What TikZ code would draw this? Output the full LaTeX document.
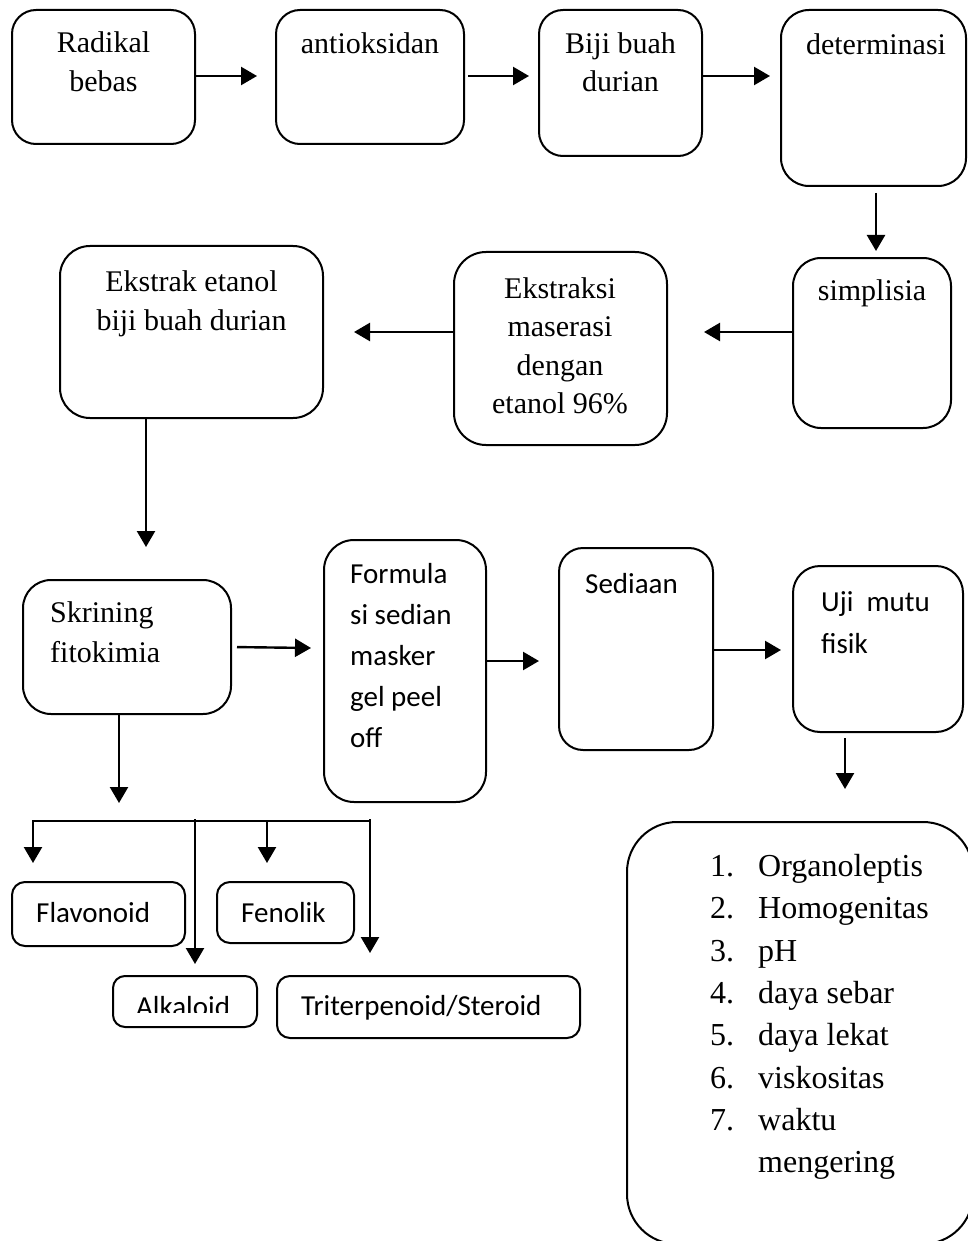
\documentclass[tikz,border=0pt]{standalone}
\usepackage{fontspec}
\setmainfont{Liberation Serif}
\newfontfamily\carl{Carlito}
\usetikzlibrary{arrows.meta,fit}
\begin{document}
\begin{tikzpicture}[x=1pt,y=-1pt,
  box/.style={draw, line width=2pt, rounded corners=#1, inner sep=0pt, outer sep=0pt},
  box/.default=28pt,
  arr/.style={line width=2.4pt, -{Triangle[length=16pt,width=18pt]}},
  ln/.style={line width=2.4pt},
  tnr/.style={font=\fontsize{30}{36}\selectfont, inner sep=0pt, anchor=base},
  tnrl/.style={font=\fontsize{30}{36}\selectfont, inner sep=0pt, anchor=base west},
  cal/.style={font=\carl\fontsize{29}{35}\selectfont, inner sep=0pt, anchor=base west},
  lst/.style={font=\fontsize{32}{38}\selectfont, inner sep=0pt, anchor=base west}]
\useasboundingbox (0,0) rectangle (968,1241);
\begin{scope}
\clip (0,0) rectangle (968,1241);
% boxes
\node[box=24pt, fit={(12,10)(195,144)}] (rad) {};
\node[box=24pt, fit={(276,10)(464,144)}] (anti) {};
\node[box=24pt, fit={(539,10)(702,156)}] (biji) {};
\node[box, fit={(781,10)(966,186)}] (det) {};
\node[box, fit={(793,258)(951,428)}] (simp) {};
\node[box=32pt, fit={(454,252)(667,445)}] (ekm) {};
\node[box=30pt, fit={(60,246)(323,418)}] (eke) {};
\node[box, fit={(23,580)(231,714)}] (skr) {};
\node[box=30pt, fit={(324,540)(486,802)}] (form) {};
\node[box=24pt, fit={(559,548)(713,750)}] (sed) {};
\node[box=27pt, fit={(793,566)(963,732)}] (uji) {};
\node[box=13pt, fit={(12,882)(185,946)}] (flav) {};
\node[box=13pt, fit={(217,882)(354,943)}] (fen) {};
\node[box=12pt, fit={(113,976)(257,1027)}] (alk) {};
\node[box=13pt, fit={(277,976)(580,1038)}] (tri) {};
\node[box=50pt, fit={(627,822)(973,1244)}] (big) {};
% texts
\node[tnr] (trad1) at (103.5,53) {Radikal};
\node[tnr] (trad2) at (103.5,92) {bebas};
\node[tnr] (tanti) at (370,54) {antioksidan};
\node[tnr] (tbiji1) at (620.5,54) {Biji buah};
\node[tnr] (tbiji2) at (620.5,92) {durian};
\node[tnr] (tdet) at (876,55) {determinasi};
\node[tnr] (tsimp) at (872,300) {simplisia};
\node[tnr] (tekm1) at (560,298) {Ekstraksi};
\node[tnr] (tekm2) at (560,336.5) {maserasi};
\node[tnr] (tekm3) at (560,375) {dengan};
\node[tnr] (tekm4) at (560,413.5) {etanol 96\%};
\node[tnr] (teke1) at (191.5,291) {Ekstrak etanol};
\node[tnr] (teke2) at (191.5,330) {biji buah durian};
\node[tnrl] (tskr1) at (50,622.7) {Skrining};
\node[tnrl] (tskr2) at (50,662.7) {fitokimia};
\node[cal] (tform1) at (350,583) {Formula};
\node[cal] (tform2) at (350,624) {si sedian};
\node[cal] (tform3) at (350,665) {masker};
\node[cal] (tform4) at (350,706) {gel peel};
\node[cal] (tform5) at (350,747) {off};
\node[cal] (tsed) at (585,593) {Sediaan};
\node[cal] (tuji1) at (821,611) {Uji~~mutu};
\node[cal] (tuji2) at (821,653) {fisik};
\node[cal] (tflav) at (36,922.7) {Flavonoid};
\node[cal] (tfen) at (241,922.7) {Fenolik};
\begin{scope}
\clip (120,985) rectangle (250,1012.5);
\node[cal] (talk) at (136,1016.5) {Alkaloid};
\end{scope}
\node[cal] (ttri) at (301,1015) {Triterpenoid/Steroid};
% list
\node[lst] (n1) at (710,876.5) {1.};
\node[lst] (l1) at (758,876.5) {Organoleptis};
\node[lst] (n2) at (710,918.8) {2.};
\node[lst] (l2) at (758,918.8) {Homogenitas};
\node[lst] (n3) at (710,961.1) {3.};
\node[lst] (l3) at (758,961.1) {pH};
\node[lst] (n4) at (710,1003.4) {4.};
\node[lst] (l4) at (758,1003.4) {daya sebar};
\node[lst] (n5) at (710,1045.7) {5.};
\node[lst] (l5) at (758,1045.7) {daya lekat};
\node[lst] (n6) at (710,1088) {6.};
\node[lst] (l6) at (758,1088) {viskositas};
\node[lst] (n7) at (710,1130.3) {7.};
\node[lst] (l7) at (758,1130.3) {waktu};
\node[lst] (l8) at (758,1172.6) {mengering};
% arrow ends
\coordinate (a1) at (257,76);
\coordinate (a2) at (529,76);
\coordinate (a3) at (770,76);
\coordinate (a4) at (876,251);
\coordinate (a5) at (704,332);
\coordinate (a6) at (354,332);
\coordinate (a7) at (146,547);
\coordinate (a8) at (311,648);
\coordinate (a9) at (539,661);
\coordinate (a10) at (781,650);
\coordinate (a11) at (845,789);
\coordinate (a12) at (119,803);
\coordinate (b1) at (33,821);
\coordinate (b2) at (195,819);
\coordinate (b3) at (267,821);
\coordinate (b4) at (370,821);
\coordinate (b4t) at (370,819);
\coordinate (e1) at (33,863);
\coordinate (e2) at (195,964);
\coordinate (e3) at (267,863);
\coordinate (e4) at (370,953);
% arrows
\draw[arr] (rad.east |- a1) -- (a1);
\draw[arr, shorten <=4pt] (anti.east |- a2) -- (a2);
\draw[arr] (biji.east |- a3) -- (a3);
\draw[arr, shorten <=7pt] (det.south -| a4) -- (a4);
\draw[arr] (simp.west |- a5) -- (a5);
\draw[arr] (ekm.west |- a6) -- (a6);
\draw[arr] (eke.south -| a7) -- (a7);
\draw[arr, shorten <=6pt] (skr.east) -- (a8);
\draw[arr] (form.east |- a9) -- (a9);
\draw[arr] (sed.east |- a10) -- (a10);
\draw[arr, shorten <=6pt] (uji.south -| a11) -- (a11);
\draw[arr] (skr.south -| a12) -- (a12);
\draw[arr] (b4) -- (b1) -- (e1);
\draw[arr] (b2) -- (e2);
\draw[arr] (b3) -- (e3);
\draw[arr] (b4t) -- (e4);
\end{scope}
\end{tikzpicture}
\end{document}
